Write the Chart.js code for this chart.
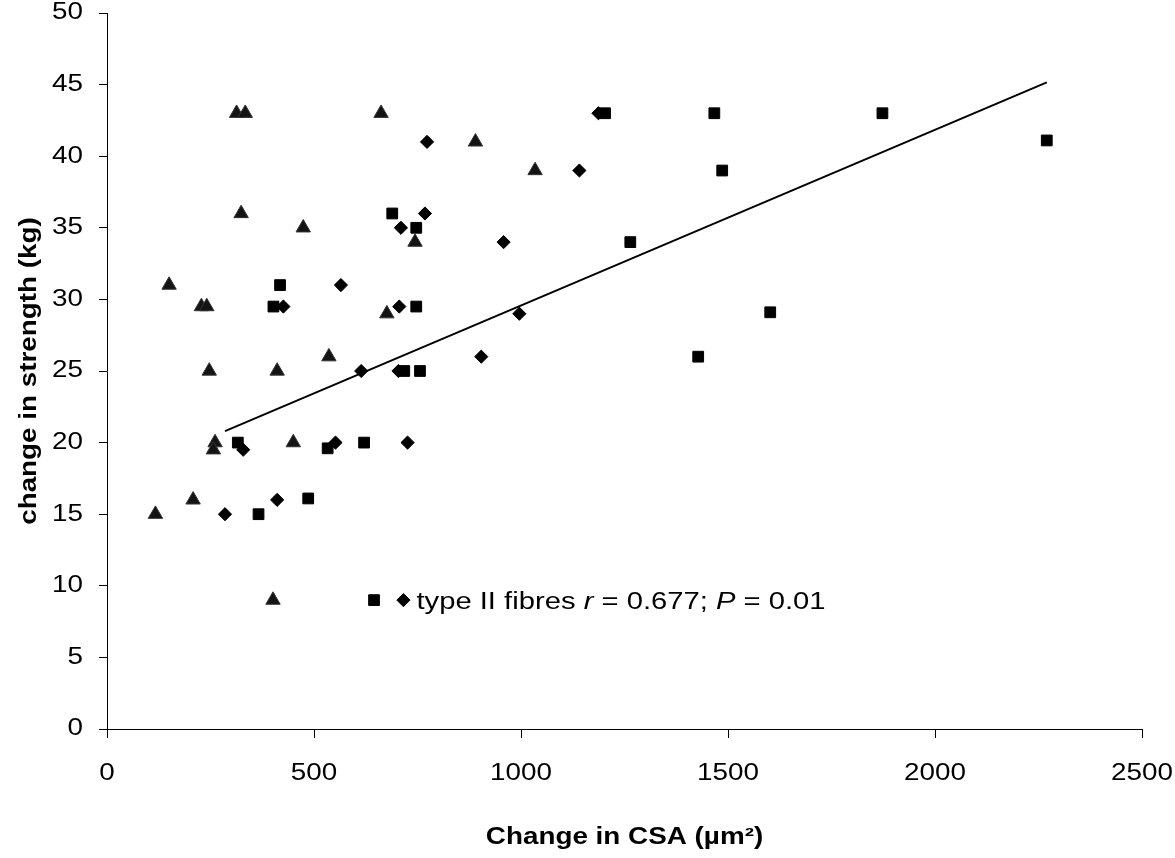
<!DOCTYPE html>
<html>
<head>
<meta charset="utf-8">
<script src="https://cdn.jsdelivr.net/npm/chart.js@4/dist/chart.umd.min.js"></script>
<style>
  html, body { margin: 0; padding: 0; background: #fff; }
  #c { display: block; }
</style>
</head>
<body>
<canvas id="c" width="1175" height="858"></canvas>
<script>
// Change in CSA (µm²) against change in strength (kg)
const triangleX = [313, 334, 662, 890, 1034, 324, 474, 744, 150, 228, 241, 676, 536, 247, 411, 261, 257, 450, 208, 117];
const triangleY = [43, 43, 43, 41, 39, 36, 35, 34, 31, 29.5, 29.5, 29, 26, 25, 25, 20, 19.5, 20, 16, 15];

const squareX = [689, 747, 418, 402, 747, 718, 756, 316, 533, 621, 366, 486, 1203, 1467, 1873, 1486, 1264, 1602, 1428, 2270];
const squareY = [36, 35, 31, 29.5, 29.5, 25, 25, 20, 19.6, 20, 15, 16.1, 43, 43, 43, 39, 34, 29.1, 26, 41.1];

const diamondX = [773, 768, 710, 958, 565, 426, 706, 996, 904, 614, 704, 329, 552, 726, 285, 411, 1187, 1141];
const diamondY = [41, 36, 35, 34, 31, 29.5, 29.5, 29, 26, 25, 25, 19.5, 20, 20, 15, 16, 43, 39];

// regression line for type II fibres
const trendX = [285, 2270];
const trendY = [20.8, 45.15];

// key marks and caption
const keyTriangle = [{ x: 401, y: 9 }];
const keySquare = [{ x: 645, y: 9 }];
const keyDiamond = [{ x: 716, y: 9 }];
const keyParts = [['type II fibres ', false], ['r', true], [' = 0.677; ', false], ['P', true], [' = 0.01', false]];

const xTicks = [0, 500, 1000, 1500, 2000, 2500];
const yTicks = [0, 5, 10, 15, 20, 25, 30, 35, 40, 45, 50];

const xTitle = 'Change in CSA (µm²)';
const yTitle = 'change in strength (kg)';

const pts = (xs, ys) => xs.map((x, i) => ({ x, y: ys[i] }));

const canvas = document.getElementById('c');
const ctx = canvas.getContext('2d');

// Text on this figure is set slightly wide; stretch glyphs horizontally around the anchor.
let textStretch = 1.21;
const plainFillText = ctx.fillText;
ctx.fillText = function (text, x, y) {
  this.save();
  this.translate(x, y);
  this.scale(textStretch, 1);
  plainFillText.call(this, text, 0, 0);
  this.restore();
};

const FONT = '"Liberation Sans", Arial, sans-serif';

const keyCaption = {
  id: 'keyCaption',
  afterDatasetsDraw(chart) {
    const { ctx, scales } = chart;
    const px = scales.x.getPixelForValue(keyDiamond[0].x) + 13;
    const py = scales.y.getPixelForValue(keyDiamond[0].y) + 8.5;
    ctx.save();
    const prev = textStretch;
    textStretch = 1.27;
    ctx.fillStyle = '#000';
    ctx.textAlign = 'left';
    ctx.textBaseline = 'alphabetic';
    let cx = px;
    for (const [txt, italic] of keyParts) {
      ctx.font = (italic ? 'italic ' : '') + '23px ' + FONT;
      ctx.fillText(txt, cx, py);
      cx += ctx.measureText(txt).width * textStretch;
    }
    textStretch = prev;
    ctx.restore();
  }
};

const markerBase = {
  type: 'scatter',
  showLine: false,
  pointBorderWidth: 1
};

new Chart(ctx, {
  type: 'scatter',
  data: {
    datasets: [
      {
        ...markerBase,
        label: 'trend',
        data: pts(trendX, trendY),
        showLine: true,
        borderColor: '#000',
        borderWidth: 2,
        pointRadius: 0,
        fill: false,
        order: 5
      },
      {
        ...markerBase,
        label: 'triangles',
        data: pts(triangleX, triangleY).concat(keyTriangle),
        pointStyle: 'triangle',
        pointRadius: 8.3,
        backgroundColor: '#141414',
        borderColor: '#333'
      },
      {
        ...markerBase,
        label: 'squares',
        data: pts(squareX, squareY).concat(keySquare),
        pointStyle: 'rect',
        pointRadius: 7.6,
        backgroundColor: '#000',
        borderColor: '#000'
      },
      {
        ...markerBase,
        label: 'diamonds',
        data: pts(diamondX, diamondY).concat(keyDiamond),
        pointStyle: 'rectRot',
        pointRadius: 6.6,
        backgroundColor: '#000',
        borderColor: '#000'
      }
    ]
  },
  options: {
    responsive: false,
    animation: false,
    devicePixelRatio: 1,
    layout: { padding: { top: 13, right: 33, left: 0, bottom: 0 } },
    plugins: {
      legend: { display: false },
      tooltip: { enabled: false }
    },
    scales: {
      x: {
        type: 'linear',
        min: 0,
        max: 2500,
        afterBuildTicks: s => { s.ticks = xTicks.map(v => ({ value: v })); },
        afterFit: s => { s.height = 129; s.paddingLeft = 0; s.paddingRight = 0; },
        border: { display: true, color: '#000', width: 1 },
        grid: { display: true, drawOnChartArea: false, drawTicks: true, tickLength: 9, color: '#000' },
        ticks: {
          color: '#000',
          font: { family: FONT, size: 23 },
          padding: 22,
          maxRotation: 0,
          callback: v => String(v)
        },
        title: {
          display: true,
          text: xTitle,
          color: '#000',
          font: { family: FONT, size: 23, weight: 'bold' },
          padding: { top: 0, bottom: 7 }
        }
      },
      y: {
        type: 'linear',
        min: 0,
        max: 50,
        afterBuildTicks: s => { s.ticks = yTicks.map(v => ({ value: v })); },
        afterFit: s => { s.width = 107; s.paddingTop = 0; s.paddingBottom = 0; },
        border: { display: true, color: '#000', width: 1 },
        grid: { display: true, drawOnChartArea: false, drawTicks: true, tickLength: 8, color: '#000' },
        ticks: {
          color: '#000',
          font: { family: FONT, size: 23 },
          padding: 16,
          callback: v => String(v)
        },
        title: {
          display: true,
          text: yTitle,
          color: '#000',
          font: { family: FONT, size: 23, weight: 'bold' },
          padding: { top: 16, bottom: 0 }
        }
      }
    }
  },
  plugins: [keyCaption]
});
</script>
</body>
</html>
